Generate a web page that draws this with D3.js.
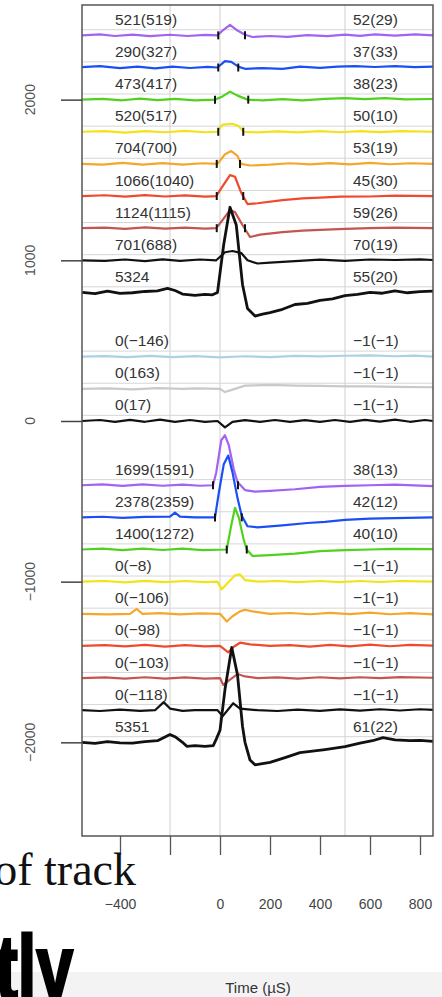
<!DOCTYPE html>
<html>
<head>
<meta charset="utf-8">
<script src="https://cdn.jsdelivr.net/npm/d3@7"></script>
<style>
body { margin: 0; background: #fff; }
text { font-family: "Liberation Sans", Arial, sans-serif; }
</style>
</head>
<body>
<svg id="chart" width="442" height="997"></svg>
<script>
// vertical offset of each trace (plot units)
var offsets = [2400, 2200, 2000, 1800, 1600, 1400, 1200, 1000, 800, 400, 200, 0,
               -400, -600, -800, -1000, -1200, -1400, -1600, -1800, -2000];
var colors = ["#a262f2", "#1b4ff5", "#4fd21e", "#f2e21c", "#f4a72c", "#ef4a2e", "#c45550", "#111", "#111",
              "#a9d3e4", "#c9c9c9", "#111",
              "#a262f2", "#1b4ff5", "#4fd21e", "#f2e21c", "#f4a72c", "#ef4a2e", "#c45550", "#111", "#111"];
var widths = [2.2, 2.2, 2.2, 2.2, 2.2, 2.2, 2.2, 2.2, 2.8, 2.2, 2.2, 2.2, 2.2, 2.2, 2.2, 2.2, 2.2, 2.2, 2.2, 2.2, 2.8];
var leftLabels = ["521(519)", "290(327)", "473(417)", "520(517)", "704(700)", "1066(1040)", "1124(1115)",
                  "701(688)", "5324", "0(\u2212146)", "0(163)", "0(17)", "1699(1591)", "2378(2359)",
                  "1400(1272)", "0(\u22128)", "0(\u2212106)", "0(\u221298)", "0(\u2212103)", "0(\u2212118)", "5351"];
var rightLabels = ["52(29)", "37(33)", "38(23)", "50(10)", "53(19)", "45(30)", "59(26)", "70(19)", "55(20)",
                   "\u22121(\u22121)", "\u22121(\u22121)", "\u22121(\u22121)", "38(13)", "42(12)", "40(10)",
                   "\u22121(\u22121)", "\u22121(\u22121)", "\u22121(\u22121)", "\u22121(\u22121)", "\u22121(\u22121)", "61(22)"];
// integration window markers (time), null = none
var windows = [[-7, 100], [-7, 73], [-20, 113], [-7, 93], [-13, 80], [-13, 93], [-13, 100], null, null,
               null, null, null, [-28, 72], [-20, 87], [27, 107], null, null, null, null, null, null];

// trace shapes: [time, value above offset]
var traces = [
  [[-552,0],[-480,6],[-420,-4],[-350,5],[-280,-5],[-200,4],[-130,-4],[-60,3],[-10,0],[10,30],[40,65],[70,30],[100,4],[130,-10],[200,-4],[270,-9],[350,2],[430,-5],[500,5],[560,-3],[620,6],[700,-2],[780,6],[852,0]],
  [[-552,2],[-480,8],[-400,-4],[-330,6],[-260,-5],[-190,6],[-120,-3],[-50,4],[-10,0],[20,40],[45,35],[75,4],[100,-8],[170,-4],[250,-9],[320,5],[400,-2],[470,6],[540,9],[620,3],[700,8],[780,2],[852,6]],
  [[-552,0],[-470,5],[-390,-4],[-320,6],[-250,-3],[-180,5],[-100,-4],[-20,0],[10,20],[40,50],[70,25],[110,0],[170,-5],[250,3],[330,-4],[420,5],[500,9],[580,3],[660,10],[740,2],[852,4]],
  [[-552,0],[-460,4],[-380,-5],[-300,4],[-220,-3],[-140,5],[-60,-3],[-10,0],[10,45],[50,50],[75,35],[95,0],[150,-4],[230,3],[310,-4],[400,4],[480,-3],[560,4],[640,-2],[720,4],[852,0]],
  [[-552,0],[-470,-5],[-390,6],[-310,-4],[-230,5],[-150,-4],[-70,4],[-10,0],[20,60],[45,80],[70,50],[85,0],[120,-10],[200,-5],[280,4],[360,-3],[440,5],[520,-3],[600,6],[680,-2],[760,4],[852,0]],
  [[-552,0],[-460,5],[-380,-4],[-300,6],[-220,-3],[-140,4],[-60,-4],[-15,0],[10,60],[40,130],[60,120],[85,20],[110,-50],[150,-45],[250,-25],[330,-14],[400,-10],[480,-4],[600,-3],[700,2],[852,0]],
  [[-552,0],[-460,4],[-380,-4],[-300,5],[-220,-3],[-140,4],[-60,-3],[-15,0],[10,50],[40,112],[60,100],[90,20],[120,-55],[160,-40],[250,-25],[330,-15],[400,-10],[500,-4],[600,0],[700,3],[852,0]],
  [[-552,0],[-460,-4],[-380,5],[-300,-5],[-230,6],[-160,-3],[-80,5],[-15,0],[20,50],[50,58],[85,45],[110,0],[150,-20],[200,-15],[300,-5],[400,4],[500,-3],[600,5],[700,2],[800,6],[852,2]],
  [[-552,0],[-500,-8],[-450,8],[-400,-6],[-350,-2],[-300,6],[-250,10],[-210,25],[-180,12],[-150,-10],[-100,-18],[-60,-12],[-30,-15],[-10,0],[15,300],[40,530],[65,420],[90,50],[110,-100],[140,-147],[170,-135],[200,-125],[250,-105],[300,-75],[350,-68],[400,-50],[450,-40],[500,-20],[550,-12],[600,0],[650,-5],[700,10],[750,-2],[800,5],[852,8]],
  [[-552,0],[-460,4],[-370,-3],[-280,5],[-190,-3],[-100,4],[0,-4],[100,3],[200,-3],[300,5],[400,2],[500,6],[600,8],[700,3],[780,7],[852,0]],
  [[-552,0],[-450,3],[-350,-3],[-250,4],[-150,0],[-100,3],[0,0],[20,-20],[50,-5],[100,20],[200,25],[300,20],[400,18],[500,16],[600,15],[700,12],[852,10]],
  [[-552,0],[-480,6],[-420,-6],[-360,7],[-300,-5],[-240,8],[-180,-6],[-120,6],[-60,-5],[-10,0],[20,-40],[50,-5],[100,5],[160,-5],[220,6],[280,-6],[340,5],[400,-5],[460,6],[520,-5],[580,7],[640,-4],[700,8],[760,-5],[820,6],[852,0]],
  [[-552,0],[-470,5],[-390,-4],[-310,5],[-230,-3],[-150,4],[-80,-3],[-28,0],[-15,80],[5,280],[20,311],[35,250],[55,100],[70,20],[100,-30],[140,-40],[200,-35],[300,-25],[400,-10],[500,-4],[600,0],[700,4],[852,-5]],
  [[-552,0],[-470,4],[-390,-3],[-300,3],[-200,5],[-180,30],[-160,5],[-100,0],[-20,0],[-5,150],[15,330],[33,385],[50,280],[70,120],[87,10],[110,-55],[150,-62],[250,-50],[350,-35],[420,-28],[500,-15],[600,-8],[700,-5],[852,0]],
  [[-552,0],[-470,5],[-390,-4],[-310,6],[-230,-3],[-150,5],[-70,-4],[27,0],[45,150],[60,260],[75,200],[95,60],[107,0],[130,-40],[200,-35],[300,-25],[400,-10],[500,-4],[600,0],[700,4],[852,2]],
  [[-552,0],[-460,4],[-380,-4],[-300,5],[-220,-3],[-140,4],[-60,-3],[-10,0],[7,-48],[30,-10],[60,40],[80,45],[100,10],[150,0],[230,4],[310,-3],[400,4],[480,-3],[560,4],[640,-2],[720,4],[852,0]],
  [[-552,0],[-450,-4],[-360,0],[-333,30],[-310,0],[-240,4],[-160,-4],[-80,3],[0,0],[27,-48],[50,-15],[80,15],[100,25],[130,15],[200,0],[280,5],[360,-3],[440,6],[520,-2],[600,7],[680,-3],[760,4],[852,-4]],
  [[-552,0],[-460,5],[-380,-3],[-300,6],[-220,-4],[-140,5],[-60,-3],[0,0],[33,-40],[55,-5],[80,20],[120,10],[200,0],[280,5],[360,-4],[440,6],[520,-3],[600,8],[680,-2],[760,6],[852,2]],
  [[-552,0],[-460,4],[-380,-4],[-300,5],[-220,-3],[-140,4],[-60,-3],[0,0],[13,-43],[40,-10],[70,25],[100,10],[150,0],[230,4],[310,-3],[400,5],[480,-2],[560,5],[640,0],[720,6],[852,2]],
  [[-552,0],[-480,-5],[-400,4],[-320,-4],[-260,0],[-225,50],[-200,10],[-150,-4],[-100,0],[-10,0],[11,-37],[30,0],[53,43],[80,10],[150,0],[230,-5],[310,4],[400,-4],[480,5],[560,-3],[640,6],[720,-2],[800,6],[852,2]],
  [[-552,0],[-500,-6],[-450,5],[-400,-4],[-350,-5],[-300,4],[-250,10],[-200,48],[-180,35],[-150,0],[-133,-25],[-100,-20],[-60,-25],[-27,-20],[-15,20],[0,75],[20,330],[47,590],[70,420],[90,100],[100,0],[120,-110],[140,-140],[170,-132],[200,-125],[260,-95],[320,-64],[370,-55],[420,-45],[500,-27],[560,-5],[610,10],[652,29],[700,15],[760,10],[800,12],[852,6]]
];

var xTickValues = [-400, -200, 0, 200, 400, 600, 800];
var xTickLabels = ["\u2212400", "", "0", "200", "400", "600", "800"];
var yTickValues = [2000, 1000, 0, -1000, -2000];
var yTickLabels = ["2000", "1000", "0", "\u22121000", "\u22122000"];
var vGrid = [-200, 0, 500];

var svg = d3.select("#chart");
var x = d3.scaleLinear().domain([-552, 852]).range([82, 433]);
var y = d3.scaleLinear().domain([-2583, 2589]).range([836, 5]);

// bottom grey band of the slide
svg.append("rect").attr("x", 0).attr("y", 972).attr("width", 442).attr("height", 25).attr("fill", "#f3f3f3");

var plot = svg.append("g");

// grid
plot.selectAll(".vg").data(vGrid).enter().append("line")
  .attr("x1", d => x(d)).attr("x2", d => x(d))
  .attr("y1", y.range()[0]).attr("y2", y.range()[1])
  .attr("stroke", "#cfcfcf").attr("stroke-width", 1);
plot.selectAll(".hg").data(offsets).enter().append("line")
  .attr("x1", 82).attr("x2", 433)
  .attr("y1", d => y(d + 35)).attr("y2", d => y(d + 35))
  .attr("stroke", "#d6d6d6").attr("stroke-width", 1);

var line = d3.line();

traces.forEach(function(tr, i) {
  plot.append("path")
    .attr("d", line(tr.map(p => [x(p[0]), y(offsets[i] + p[1])])))
    .attr("fill", "none")
    .attr("stroke", colors[i])
    .attr("stroke-width", widths[i])
    .attr("stroke-linejoin", "round");
});

// window markers
windows.forEach(function(w, i) {
  if (!w) return;
  w.forEach(function(t) {
    plot.append("line")
      .attr("x1", x(t)).attr("x2", x(t))
      .attr("y1", y(offsets[i]) - 4).attr("y2", y(offsets[i]) + 4)
      .attr("stroke", "#111").attr("stroke-width", 2);
  });
});

// labels
plot.selectAll(".ll").data(leftLabels).enter().append("text")
  .attr("x", x(-420)).attr("y", (d, i) => y(offsets[i] + 100))
  .attr("dy", "0.36em").attr("font-size", 15.5).attr("fill", "#333").text(d => d);
plot.selectAll(".rl").data(rightLabels).enter().append("text")
  .attr("x", x(532)).attr("y", (d, i) => y(offsets[i] + 100))
  .attr("dy", "0.36em").attr("font-size", 15.5).attr("fill", "#333").text(d => d);

// frame
plot.append("rect").attr("x", 82).attr("y", 5).attr("width", 351).attr("height", 831)
  .attr("fill", "none").attr("stroke", "#555").attr("stroke-width", 1.5);

// x axis
var xAxis = plot.append("g").attr("transform", "translate(0,836)")
  .call(d3.axisBottom(x).tickValues(xTickValues).tickSize(19).tickPadding(44)
        .tickFormat((d, i) => xTickLabels[i]));
xAxis.select(".domain").remove();
xAxis.selectAll("line").attr("stroke", "#555").attr("stroke-width", 1.3);
xAxis.selectAll("text").attr("font-size", 14).attr("fill", "#444")
  .attr("font-family", "Liberation Sans, Arial, sans-serif");

// y axis
var yAxis = plot.append("g").attr("transform", "translate(82,0)")
  .call(d3.axisLeft(y).tickValues(yTickValues).tickSize(21).tickFormat(""));
yAxis.select(".domain").remove();
yAxis.selectAll("line").attr("stroke", "#444").attr("stroke-width", 1.5);
plot.selectAll(".yl").data(yTickValues).enter().append("text")
  .attr("transform", (d, i) => "translate(35," + y(d) + ") rotate(-90)")
  .attr("text-anchor", "middle").attr("font-size", 14).attr("fill", "#555")
  .text((d, i) => yTickLabels[i]);

plot.append("text").attr("x", 258).attr("y", 993).attr("text-anchor", "middle")
  .attr("font-size", 15).attr("fill", "#333").text("Time (\u00b5S)");

// overlapping slide text
svg.append("text").attr("x", 136).attr("y", 885).attr("text-anchor", "end")
  .style("font-family", "'Liberation Serif', 'DejaVu Serif', serif")
  .attr("font-size", 46).attr("fill", "#111").text("of track");
svg.append("text").attr("transform", "translate(73,1000) scale(0.72,1)").attr("text-anchor", "end")
  .attr("font-size", 92).attr("font-weight", "bold").attr("fill", "#000")
  .attr("stroke", "#000").attr("stroke-width", 3).text("tly");
</script>
</body>
</html>
